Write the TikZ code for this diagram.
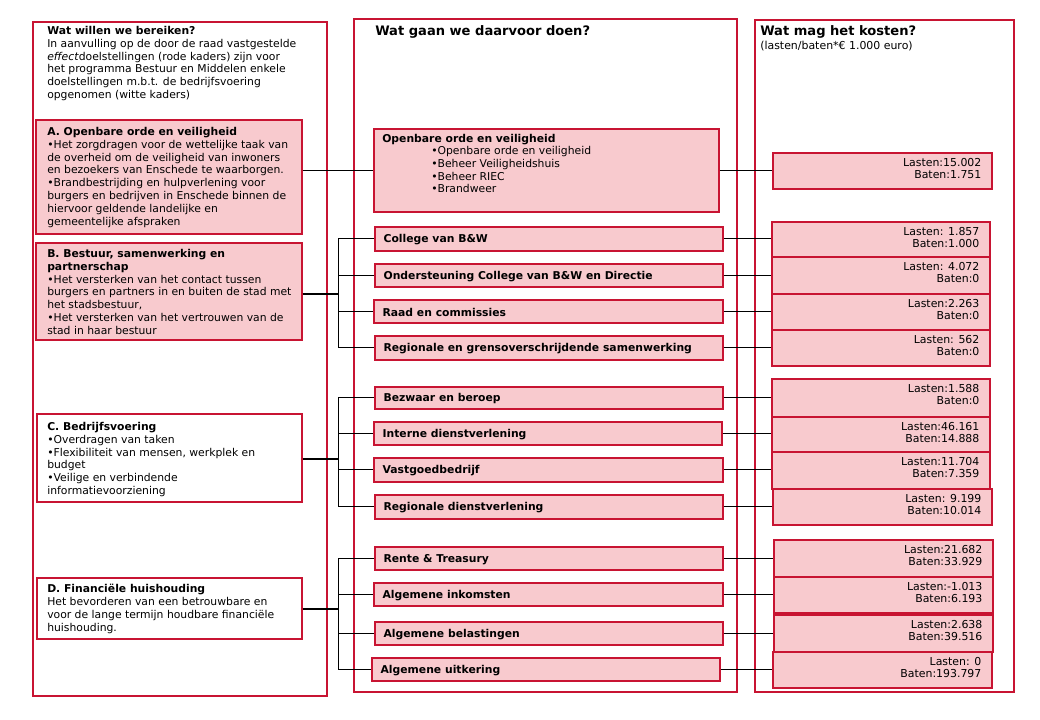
\documentclass[tikz,border=0pt]{standalone}
\usepackage{fontspec}
\setmainfont{DejaVu Sans}
\usetikzlibrary{fit}
\definecolor{bred}{RGB}{200,20,50}
\definecolor{bpink}{RGB}{248,202,206}
\tikzset{
  col/.style={draw=bred, line width=1pt, inner sep=0pt},
  pbox/.style={draw=bred, fill=bpink, line width=1pt, inner sep=0pt},
  wbox/.style={draw=bred, fill=white, line width=1pt, inner sep=0pt},
  txt/.style={font=\fontsize{8.1}{9.6}\selectfont, align=left, inner sep=0pt, anchor=north west},
  rowtxt/.style={font=\fontsize{8.1}{9.6}\selectfont\bfseries, inner sep=0pt, anchor=west},
  costtxt/.style={font=\fontsize{8.2}{9}\selectfont, align=right, inner sep=0pt, anchor=north east},
  bigtitle/.style={font=\fontsize{9.8}{12}\selectfont\bfseries, inner sep=0pt, anchor=north west},
  conn/.style={draw=black, line width=0.75pt},
  stem/.style={draw=black, line width=1.2pt},
}
\newcommand\rowbox[6]{%
  \node[pbox, fit={(#2,#3) (#4,#5)}] (#1) {};
  \node[rowtxt] (#1t) at ([shift={(9,1)}]#1.west) {#6};
}
\newcommand\costbox[7]{%
  \node[pbox, fit={(#2,#3) (#4,#5)}] (#1) {};
  \node[costtxt] (#1t) at ([shift={(-11,6)}]#1.north east) {#6\\#7};
}
\begin{document}
\begin{tikzpicture}[x=0.75pt,y=-0.75pt]
\useasboundingbox[fill=white] (0,0) rectangle (1040,720);

% columns
\node[col, fit={(33,22) (327,696)}] (colL) {};
\node[col, fit={(354,19) (737,692)}] (colM) {};
\node[col, fit={(755,20) (1014,692)}] (colR) {};

% left intro
\node[txt] (intro) at (47,26) {\textbf{Wat willen we bereiken?}\\
In aanvulling op de door de raad vastgestelde\\
\textit{effect}doelstellingen (rode kaders) zijn voor\\
het programma Bestuur en Middelen enkele\\
doelstellingen m.b.t. de bedrijfsvoering\\
opgenomen (witte kaders)};

% left boxes
\node[pbox, fit={(36,120) (302,234)}] (A) {};
\node[txt] (At) at (47,127) {\textbf{A. Openbare orde en veiligheid}\\
•Het zorgdragen voor de wettelijke taak van\\
de overheid om de veiligheid van inwoners\\
en bezoekers van Enschede te waarborgen.\\
•Brandbestrijding en hulpverlening voor\\
burgers en bedrijven in Enschede binnen de\\
hiervoor geldende landelijke en\\
gemeentelijke afspraken};

\node[pbox, fit={(36,243) (302,340)}] (B) {};
\node[txt] (Bt) at (47,249) {\textbf{B. Bestuur, samenwerking en}\\
\textbf{partnerschap}\\
•Het versterken van het contact tussen\\
burgers en partners in en buiten de stad met\\
het stadsbestuur,\\
•Het versterken van het vertrouwen van de\\
stad in haar bestuur};

\node[wbox, fit={(37,414) (302,502)}] (C) {};
\node[txt] (Ct) at (47,422) {\textbf{C. Bedrijfsvoering}\\
•Overdragen van taken\\
•Flexibiliteit van mensen, werkplek en\\
budget\\
•Veilige en verbindende\\
informatievoorziening};

\node[wbox, fit={(37,578) (302,639)}] (D) {};
\node[txt] (Dt) at (47,584) {\textbf{D. Financiële huishouding}\\
Het bevorderen van een betrouwbare en\\
voor de lange termijn houdbare financiële\\
huishouding.};

% titles
\node[bigtitle] (tM) at (375,25) {Wat gaan we daarvoor doen?};
\node[bigtitle] (tR) at (760,25) {Wat mag het kosten?};
\node[txt, font=\fontsize{8.2}{9}\selectfont] (tRs) at (760,41) {(lasten/baten*€ 1.000 euro)};

% middle: OOV
\node[pbox, fit={(374,129) (719,212)}] (OOV) {};
\node[txt] (OOVh) at (382,134) {\textbf{Openbare orde en veiligheid}};
\node[txt] (OOVl) at (431,146) {•Openbare orde en veiligheid\\
•Beheer Veiligheidshuis\\
•Beheer RIEC\\
•Brandweer};

% middle rows
\rowbox{CBW}{375}{227}{723}{251}{College van B\&W}
\rowbox{OND}{375}{264}{723}{287}{Ondersteuning College van B\&W en Directie}
\rowbox{RAAD}{374}{300}{723}{323}{Raad en commissies}
\rowbox{RGS}{375}{336}{723}{360}{Regionale en grensoverschrijdende samenwerking}
\rowbox{BEZ}{375}{387}{723}{409}{Bezwaar en beroep}
\rowbox{INT}{374}{422}{722}{445}{Interne dienstverlening}
\rowbox{VAST}{374}{458}{723}{482}{Vastgoedbedrijf}
\rowbox{RDV}{375}{495}{723}{519}{Regionale dienstverlening}
\rowbox{RENTE}{375}{547}{723}{570}{Rente \& Treasury}
\rowbox{INK}{374}{583}{723}{606}{Algemene inkomsten}
\rowbox{BEL}{375}{622}{723}{645}{Algemene belastingen}
\rowbox{UIT}{372}{658}{720}{681}{Algemene uitkering}

% right cost boxes
\costbox{cOOV}{773}{153}{992}{189}{Lasten:15.002}{Baten:1.751}
\costbox{cCBW}{772}{222}{990}{257}{Lasten: 1.857}{Baten:1.000}
\costbox{cOND}{772}{257}{990}{294}{Lasten: 4.072}{Baten:0}
\costbox{cRAAD}{772}{294}{990}{330}{Lasten:2.263}{Baten:0}
\costbox{cRGS}{772}{330}{990}{366}{Lasten: 562}{Baten:0}
\costbox{cBEZ}{772}{379}{990}{417}{Lasten:1.588}{Baten:0}
\costbox{cINT}{772}{417}{990}{452}{Lasten:46.161}{Baten:14.888}
\costbox{cVAST}{772}{452}{990}{489}{Lasten:11.704}{Baten:7.359}
\costbox{cRDV}{773}{489}{992}{525}{Lasten: 9.199}{Baten:10.014}
\costbox{cRENTE}{774}{540}{993}{577}{Lasten:21.682}{Baten:33.929}
\costbox{cINK}{774}{577}{993}{613}{Lasten:-1.013}{Baten:6.193}
\costbox{cBEL}{774}{615}{993}{652}{Lasten:2.638}{Baten:39.516}
\costbox{cUIT}{773}{652}{992}{688}{Lasten: 0}{Baten:193.797}

% connectors A
\draw[conn] (A.east |- OOV.west) -- (OOV.west);
\draw[conn] (OOV.east) -- (OOV.east -| cOOV.west);

% bus coordinates
\coordinate (busB) at (338,294);
\coordinate (busC) at (338,459);
\coordinate (busD) at (338,609);

\draw[stem] (B.east |- busB) -- (busB);
\draw[conn] (CBW.west -| busB) -- (RGS.west -| busB);
\foreach \r in {CBW,OND,RAAD,RGS}{
  \draw[conn] (\r.west -| busB) -- (\r.west);
  \draw[conn] (\r.east) -- (\r.east -| c\r.west);
}
\draw[stem] (C.east |- busC) -- (busC);
\draw[conn] (BEZ.west -| busC) -- (RDV.west -| busC);
\foreach \r in {BEZ,INT,VAST,RDV}{
  \draw[conn] (\r.west -| busC) -- (\r.west);
  \draw[conn] (\r.east) -- (\r.east -| c\r.west);
}
\draw[stem] (D.east |- busD) -- (busD);
\draw[conn] (RENTE.west -| busD) -- (UIT.west -| busD);
\foreach \r in {RENTE,INK,BEL,UIT}{
  \draw[conn] (\r.west -| busD) -- (\r.west);
  \draw[conn] (\r.east) -- (\r.east -| c\r.west);
}
\end{tikzpicture}
\end{document}
